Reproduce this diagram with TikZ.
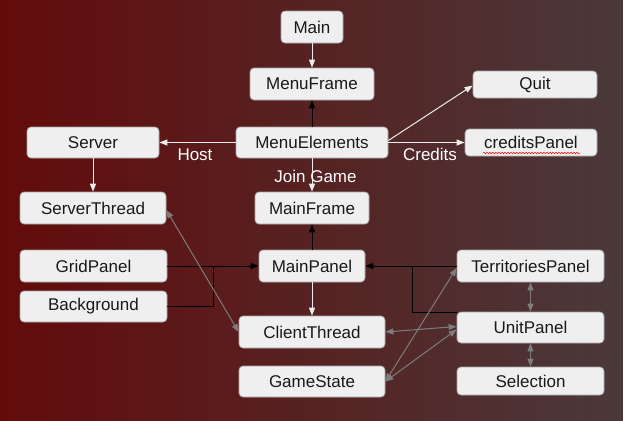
\documentclass[tikz,border=0pt]{standalone}
\usepackage{fontspec}
\setmainfont{Liberation Sans}
\usetikzlibrary{arrows.meta,decorations.pathmorphing}
\definecolor{bgL}{RGB}{99,11,11}
\definecolor{bgR}{RGB}{74,57,58}
\definecolor{boxfill}{RGB}{239,239,239}
\definecolor{boxline}{RGB}{165,165,165}
\definecolor{wline}{RGB}{236,236,236}
\definecolor{gline}{RGB}{125,125,125}
\definecolor{txt}{RGB}{25,25,25}
\tikzset{
 box/.style={draw=boxline, line width=0.7pt, fill=boxfill, rounded corners=4pt, text=txt,
   font=\fontsize{17}{20}\selectfont, inner sep=0pt, anchor=center},
 warrow/.style={draw=wline, line width=1pt, -{Triangle[length=8pt,width=6pt]}},
 barrow/.style={draw=black, line width=1pt, -{Triangle[length=8pt,width=6pt]}},
 bline/.style={draw=black, line width=1pt},
 garrow/.style={draw=gline, line width=1pt, {Triangle[length=8pt,width=6pt]}-{Triangle[length=8pt,width=6pt]}},
 lbl/.style={text=white, font=\fontsize{17}{20}\selectfont, inner sep=0pt}
}
\begin{document}
\begin{tikzpicture}[x=1pt,y=-1pt]
\useasboundingbox (0,0) rectangle (625,421);
\shade[left color=bgL, right color=bgR] (0,0) rectangle (623,421);
\fill[white] (623,0) rectangle (625,421);

\node[box, minimum width=62pt, minimum height=32pt] (main) at (312,27) {Main};
\node[box, minimum width=124pt, minimum height=32pt] (menuframe) at (312,84) {MenuFrame};
\node[box, minimum width=124pt, minimum height=27pt] (quit) at (535,84.5) {Quit};
\node[box, minimum width=132pt, minimum height=31pt] (server) at (93,142.5) {Server};
\node[box, minimum width=152pt, minimum height=31pt] (menuel) at (312,142.5) {MenuElements};
\node[box, minimum width=132pt, minimum height=27pt] (credits) at (531,142.5) {creditsPanel};
\node[box, minimum width=146pt, minimum height=32pt] (serverthread) at (93,208) {ServerThread};
\node[box, minimum width=114pt, minimum height=32pt] (mainframe) at (312,208) {MainFrame};
\node[box, minimum width=147pt, minimum height=32pt] (grid) at (93.5,266) {GridPanel};
\node[box, minimum width=106pt, minimum height=32pt] (mainpanel) at (312,266) {MainPanel};
\node[box, minimum width=147pt, minimum height=32pt] (terr) at (530.5,266) {TerritoriesPanel};
\node[box, minimum width=147pt, minimum height=31pt] (backg) at (93.5,306.5) {Background};
\node[box, minimum width=146pt, minimum height=32pt] (client) at (312,332) {ClientThread};
\node[box, minimum width=147pt, minimum height=31pt] (unit) at (530.5,327.5) {UnitPanel};
\node[box, minimum width=146pt, minimum height=31pt] (gamestate) at (312,381.5) {GameState};
\node[box, minimum width=147pt, minimum height=28pt] (selection) at (530.5,381) {Selection};

\draw[red, line width=0.5pt, decorate, decoration={snake, segment length=3pt, amplitude=0.7pt}] (483,153) -- (580,153);

% top part
\draw[warrow] (main) -- (menuframe);
\draw[barrow] (menuel) -- (menuframe);
\draw[warrow] ([yshift=2pt]menuel.east) -- ([yshift=-1pt]quit.west);
\draw[warrow] (menuel) -- (credits);
\draw[warrow] (menuel) -- (server);
\draw[warrow] (menuel) -- (mainframe);
\draw[warrow] (server) -- (serverthread);
\node[lbl] (host) at (195,155) {Host};
\node[lbl] (credlbl) at (430,154) {Credits};
\node[lbl] (join) at (315.5,176) {Join Game};

% main panel
\draw[barrow] (mainpanel) -- (mainframe);
\draw[barrow] (grid) -- (mainpanel);
\coordinate (bj) at (213,266);
\draw[bline] (backg.east) -| (bj);
\draw[barrow] (terr) -- (mainpanel);
\coordinate (uj) at (412,266);
\draw[bline] ([yshift=-1pt]unit.north west) -| (uj);
\draw[warrow] (mainpanel) -- (client);

% gray links
\draw[garrow] ([yshift=-2pt]serverthread.east) -- (client.west);
\draw[garrow] (client.east) -- ([yshift=1pt]unit.west);
\draw[garrow] (gamestate.east) -- ([yshift=-2pt]terr.west);
\draw[garrow] (gamestate.east) -- ([yshift=-2pt]unit.west);
\draw[garrow] (terr) -- (unit);
\draw[garrow] (unit) -- (selection);
\end{tikzpicture}
\end{document}
